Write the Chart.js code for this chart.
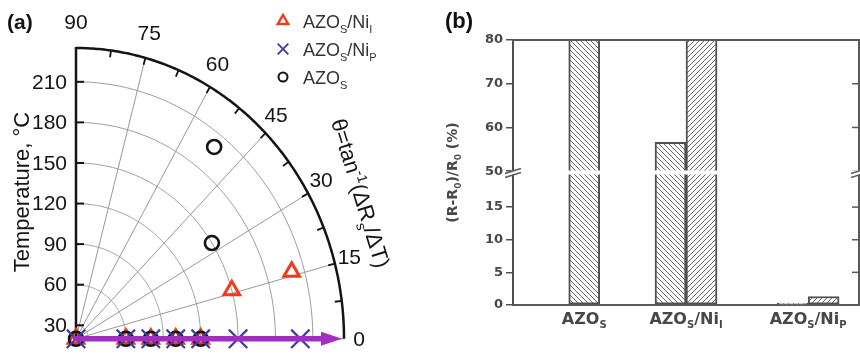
<!DOCTYPE html>
<html>
<head>
<meta charset="utf-8">
<script src="https://cdn.jsdelivr.net/npm/chart.js@4.4.1/dist/chart.umd.min.js"></script>
<style>
  html, body { margin: 0; padding: 0; background: #fff; }
  #wrap { position: relative; width: 860px; height: 354px; overflow: hidden; }
  #polar { position: absolute; left: 0; top: 0; }
  #bars { position: absolute; left: 430px; top: 0; }
</style>
</head>
<body>
<div id="wrap">
  <canvas id="polar" width="430" height="354"></canvas>
  <canvas id="bars" width="430" height="354"></canvas>
</div>
<script>
// ---------- (a) temperature (radius) vs. theta = atan(dRs/dT) (angle) ----------
const temperatures = [20, 60, 80, 100, 120, 150, 200];
const thetaNiI = [0, 0, 0, 0, 0, 16, 16];
const thetaNiP = [0, 0, 0, 0, 0, 0, 0];
const thetaAZO = [0, 0, 0, 0, 0, 33, 52];
const radialMin = 20;
const radialMax = 235;
const radialTicks = [30, 60, 90, 120, 150, 180, 210];
const angleTicks = [0, 15, 30, 45, 60, 75, 90];
const angleMinorStep = 7.5;

// ---------- (b) relative resistance change ----------
const groupNames = [
  [['AZO', ''], ['S', 'sub']],
  [['AZO', ''], ['S', 'sub'], ['/Ni', ''], ['I', 'sub']],
  [['AZO', ''], ['S', 'sub'], ['/Ni', ''], ['P', 'sub']]
];
const groupPos = [1, 2, 3.2];
const changeFirst = [92, 56.6, 0.25];
const changeSecond = [null, 92, 1.3];
const lowerTicks = [0, 5, 10, 15];
const upperTicks = [50, 60, 70, 80];

const RAD = Math.PI / 180;
const RED = '#ef3a1c', BLUE = '#3b3bb0', INK = '#141414', PURPLE = '#a42cc3';
const NARROW = '"Liberation Sans Narrow", "Arial Narrow", sans-serif';
const SANS = '"Liberation Sans", Arial, sans-serif';
const WIDE = '"DejaVu Sans", Verdana, sans-serif';

function polarPoint(T, deg) {
  const r = T - radialMin;
  return { x: r * Math.cos(deg * RAD), y: r * Math.sin(deg * RAD) };
}

// text with sub/superscripts: parts = [[text, ''|'sub'|'sup'], ...]
function richWidth(ctx, parts, size, family, weight) {
  let w = 0;
  for (const [t, kind] of parts) {
    ctx.font = (weight || '') + ' ' + (kind ? Math.round(size * 0.62) : size) + 'px ' + family;
    w += ctx.measureText(t).width;
  }
  return w;
}
function drawRich(ctx, parts, x, y, size, family, align, weight) {
  const total = richWidth(ctx, parts, size, family, weight);
  let cx = align === 'center' ? x - total / 2 : x;
  ctx.textAlign = 'left';
  ctx.textBaseline = 'alphabetic';
  for (const [t, kind] of parts) {
    ctx.font = (weight || '') + ' ' + (kind ? Math.round(size * 0.62) : size) + 'px ' + family;
    const dy = kind === 'sub' ? size * 0.28 : kind === 'sup' ? -size * 0.4 : 0;
    ctx.fillText(t, cx, y + dy);
    cx += ctx.measureText(t).width;
  }
}

function marker(ctx, style, r, x, y, color, lw) {
  ctx.save();
  ctx.strokeStyle = color;
  ctx.fillStyle = 'rgba(0,0,0,0)';
  ctx.lineWidth = lw;
  Chart.helpers.drawPoint(ctx, { pointStyle: style, radius: r, borderWidth: lw, rotation: 0 }, x, y);
  ctx.restore();
}

const polarDecor = {
  id: 'polarDecor',
  beforeDatasetsDraw(chart) {
    const { ctx } = chart;
    const xs = chart.scales.x, ys = chart.scales.y;
    const px = (r, d) => xs.getPixelForValue(r * Math.cos(d * RAD));
    const py = (r, d) => ys.getPixelForValue(r * Math.sin(d * RAD));
    const rOuter = radialMax - radialMin;
    const arc = (r) => {
      ctx.beginPath();
      for (let d = 0; d <= 90; d += 0.5) {
        const X = px(r, d), Y = py(r, d);
        if (d === 0) ctx.moveTo(X, Y); else ctx.lineTo(X, Y);
      }
      ctx.stroke();
    };
    ctx.save();
    // grid rings and spokes
    ctx.strokeStyle = '#989898';
    ctx.lineWidth = 1;
    for (const T of radialTicks) arc(T - radialMin);
    for (const a of angleTicks) {
      if (a === 90) continue;
      ctx.beginPath();
      ctx.moveTo(px(0, a), py(0, a));
      ctx.lineTo(px(rOuter, a), py(rOuter, a));
      ctx.stroke();
    }
    // outer angular axis
    ctx.strokeStyle = INK;
    ctx.lineWidth = 2.5;
    arc(rOuter);
    ctx.lineWidth = 1.8;
    for (let a = angleMinorStep; a < 90; a += angleMinorStep) {
      const X = px(rOuter, a), Y = py(rOuter, a);
      ctx.beginPath();
      ctx.moveTo(X, Y);
      ctx.lineTo(X - 7 * Math.cos(a * RAD), Y + 7 * Math.sin(a * RAD));
      ctx.stroke();
    }
    // radial (temperature) axis
    const x0 = px(0, 90);
    ctx.lineWidth = 2.5;
    ctx.beginPath();
    ctx.moveTo(x0, py(0, 90) + 1);
    ctx.lineTo(x0, py(rOuter, 90) - 1);
    ctx.stroke();
    ctx.lineWidth = 2;
    ctx.fillStyle = INK;
    ctx.font = '21px ' + NARROW;
    ctx.textAlign = 'right';
    ctx.textBaseline = 'middle';
    for (const T of radialTicks) {
      const Y = ys.getPixelForValue(T - radialMin);
      ctx.beginPath();
      ctx.moveTo(x0, Y);
      ctx.lineTo(x0 + 8, Y);
      ctx.stroke();
      ctx.fillText(String(T), x0 - 9, Y + 1);
    }
    // angle labels
    ctx.textAlign = 'center';
    for (const a of angleTicks) {
      const X = px(rOuter, a) + 15 * Math.cos(a * RAD);
      const Y = py(rOuter, a) - 26 * Math.sin(a * RAD);
      ctx.fillText(String(a), X, Y + 1);
    }
    ctx.restore();
  },
  afterDatasetsDraw(chart) {
    const { ctx } = chart;
    const xs = chart.scales.x, ys = chart.scales.y;
    const rOuter = radialMax - radialMin;
    const xa = xs.getPixelForValue(0), xb = xs.getPixelForValue(rOuter) - 2;
    const y0 = ys.getPixelForValue(0);
    ctx.save();
    ctx.strokeStyle = PURPLE;
    ctx.fillStyle = PURPLE;
    ctx.lineWidth = 5.5;
    ctx.beginPath();
    ctx.moveTo(xa - 3, y0);
    ctx.lineTo(xb - 18, y0);
    ctx.stroke();
    ctx.beginPath();
    ctx.moveTo(xb, y0);
    ctx.lineTo(xb - 21, y0 - 7);
    ctx.lineTo(xb - 21, y0 + 7);
    ctx.closePath();
    ctx.fill();
    ctx.restore();
  },
  afterDraw(chart) {
    const { ctx } = chart;
    ctx.save();
    ctx.fillStyle = INK;
    // panel tag
    ctx.font = 'bold 21px ' + SANS;
    ctx.textAlign = 'left';
    ctx.textBaseline = 'alphabetic';
    ctx.fillText('(a)', 7, 29);
    // legend
    const rows = [
      { style: 'triangle', r: 6, color: RED, lw: 2.4, parts: [['AZO', ''], ['S', 'sub'], ['/Ni', ''], ['I', 'sub']] },
      { style: 'crossRot', r: 7.5, color: BLUE, lw: 1.8, parts: [['AZO', ''], ['S', 'sub'], ['/Ni', ''], ['P', 'sub']] },
      { style: 'circle', r: 4.5, color: INK, lw: 2, parts: [['AZO', ''], ['S', 'sub']] }
    ];
    rows.forEach((row, i) => {
      const cy = 21 + i * 28;
      marker(ctx, row.style, row.r, 283, cy, row.color, row.lw);
      ctx.fillStyle = '#333';
      drawRich(ctx, row.parts, 303, cy + 7, 18, NARROW, 'left');
    });
    // radial axis title
    ctx.fillStyle = INK;
    ctx.save();
    ctx.translate(29, 192);
    ctx.rotate(-Math.PI / 2);
    ctx.font = '22px ' + NARROW;
    ctx.textAlign = 'center';
    ctx.fillText('Temperature, \u00B0C', 0, 0);
    ctx.restore();
    // angle definition
    ctx.save();
    ctx.translate(361, 193);
    ctx.rotate(73 * RAD);
    const parts = [['\u03B8=tan', ''], ['-1', 'sup'], ['(\u0394R', ''], ['s', 'sub'], ['/\u0394T)', '']];
    drawRich(ctx, parts, 0, 8, 22, SANS, 'center');
    ctx.restore();
    ctx.restore();
  }
};

new Chart(document.getElementById('polar'), {
  type: 'scatter',
  data: {
    datasets: [
      {
        label: 'AZOs/NiI',
        data: temperatures.map((T, i) => polarPoint(T, thetaNiI[i])),
        pointStyle: 'triangle', pointRadius: 9, pointBorderWidth: 3,
        pointBorderColor: RED, pointBackgroundColor: 'rgba(0,0,0,0)',
        order: 3, clip: false
      },
      {
        label: 'AZOs/NiP',
        data: temperatures.map((T, i) => polarPoint(T, thetaNiP[i])),
        pointStyle: 'crossRot', pointRadius: 13, pointBorderWidth: 2.2,
        pointBorderColor: BLUE, pointBackgroundColor: 'rgba(0,0,0,0)',
        order: 1, clip: false
      },
      {
        label: 'AZOs',
        data: temperatures.map((T, i) => polarPoint(T, thetaAZO[i])),
        pointStyle: 'circle', pointRadius: 7, pointBorderWidth: 2.6,
        pointBorderColor: INK, pointBackgroundColor: 'rgba(0,0,0,0)',
        order: 2, clip: false
      }
    ]
  },
  options: {
    responsive: false,
    animation: false,
    devicePixelRatio: 1,
    events: [],
    layout: { padding: { left: 76, right: 86, top: 48, bottom: 13 } },
    plugins: { legend: { display: false }, tooltip: { enabled: false } },
    scales: {
      x: { type: 'linear', min: 0, max: radialMax - radialMin, display: false },
      y: { type: 'linear', min: 0, max: radialMax - radialMin, display: false }
    }
  },
  plugins: [polarDecor]
});

// ---------- (b) ----------
function makeHatch(dir) {
  const s = 5;
  const c = document.createElement('canvas');
  c.width = s; c.height = s;
  const g = c.getContext('2d');
  g.fillStyle = '#fff';
  g.fillRect(0, 0, s, s);
  g.strokeStyle = '#666';
  g.lineWidth = 1;
  g.beginPath();
  if (dir === 'back') {
    g.moveTo(-1, -1); g.lineTo(s + 1, s + 1);
    g.moveTo(-1, s - 1); g.lineTo(1, s + 1);
    g.moveTo(s - 1, -1); g.lineTo(s + 1, 1);
  } else {
    g.moveTo(-1, s + 1); g.lineTo(s + 1, -1);
    g.moveTo(-1, 1); g.lineTo(1, -1);
    g.moveTo(s - 1, s + 1); g.lineTo(s + 1, s - 1);
  }
  g.stroke();
  return g.createPattern(c, 'repeat');
}
const hatchBack = makeHatch('back');
const hatchFwd = makeHatch('fwd');
const barSeries = (values) => values.map((v, i) => ({ x: groupPos[i], y: v }));
const barLook = {
  borderColor: '#505050', borderWidth: 2, borderSkipped: false,
  barThickness: 31, skipNull: true
};

const GREY = '#474747';
const barFrame = {
  id: 'barFrame',
  beforeDatasetDraw(chart, args) {
    const ys = args.meta.yScale, ca = chart.chartArea, ctx = chart.ctx;
    ctx.save();
    ctx.beginPath();
    ctx.rect(ca.left, ys.top, ca.right - ca.left, ys.bottom - ys.top);
    ctx.clip();
  },
  afterDatasetDraw(chart) {
    chart.ctx.restore();
  },
  afterDraw(chart) {
    const { ctx, chartArea: ca } = chart;
    const low = chart.scales.yLow, high = chart.scales.yHigh, xs = chart.scales.x;
    const cut = (low.top + high.bottom) / 2;
    const line = (x1, y1, x2, y2) => { ctx.beginPath(); ctx.moveTo(x1, y1); ctx.lineTo(x2, y2); ctx.stroke(); };
    ctx.save();
    ctx.strokeStyle = '#5a5a5a';
    ctx.lineWidth = 2;
    line(ca.left - 1, ca.top, ca.right + 1, ca.top);
    line(ca.right, ca.top, ca.right, ca.bottom);
    ctx.lineWidth = 1.5;
    for (const s of [low, high]) {
      for (const t of s.ticks) {
        const y = s.getPixelForValue(t.value);
        line(ca.right - 7, y, ca.right, y);
      }
    }
    // axis break
    ctx.fillStyle = '#fff';
    ctx.fillRect(ca.left - 2, cut - 2, ca.right - ca.left + 4, 4);
    ctx.lineWidth = 1.4;
    for (const xb of [ca.left, ca.right]) {
      line(xb - 8, cut + 1, xb + 8, cut - 4);
      line(xb - 8, cut + 5, xb + 8, cut);
    }
    // axis title
    ctx.fillStyle = GREY;
    ctx.save();
    ctx.translate(27, cut);
    ctx.rotate(-Math.PI / 2);
    drawRich(ctx, [['(R-R', ''], ['0', 'sub'], [')/R', ''], ['0', 'sub'], [' (%)', '']], 0, 0, 14, WIDE, 'center', 'bold');
    ctx.restore();
    // category names
    groupNames.forEach((parts, i) => {
      drawRich(ctx, parts, xs.getPixelForValue(groupPos[i]), ca.bottom + 19, 16, WIDE, 'center', 'bold');
    });
    // panel tag
    ctx.fillStyle = '#111';
    ctx.font = 'bold 22px ' + SANS;
    ctx.textAlign = 'left';
    ctx.textBaseline = 'alphabetic';
    ctx.fillText('(b)', 15, 28);
    ctx.restore();
  }
};

const yCommon = {
  type: 'linear', position: 'left', stack: 'change', stackWeight: 1, stacked: false,
  border: { display: true, color: '#505050', width: 2 },
  grid: { drawOnChartArea: false, drawTicks: true, tickLength: 7, color: '#505050', lineWidth: 1.5 },
  ticks: { color: GREY, font: { family: WIDE, size: 13, weight: 'bold' }, padding: 3 },
  afterFit(s) { s.width = 83; }
};

new Chart(document.getElementById('bars'), {
  type: 'bar',
  data: {
    datasets: [
      { ...barLook, data: barSeries(changeFirst), yAxisID: 'yLow', stack: 'first', backgroundColor: hatchBack },
      { ...barLook, data: barSeries(changeSecond), yAxisID: 'yLow', stack: 'second', backgroundColor: hatchFwd },
      { ...barLook, data: barSeries(changeFirst), yAxisID: 'yHigh', stack: 'first', backgroundColor: hatchBack },
      { ...barLook, data: barSeries(changeSecond), yAxisID: 'yHigh', stack: 'second', backgroundColor: hatchFwd }
    ]
  },
  options: {
    responsive: false,
    animation: false,
    devicePixelRatio: 1,
    events: [],
    layout: { padding: { left: 0, right: 1, top: 40, bottom: 49 } },
    plugins: { legend: { display: false }, tooltip: { enabled: false } },
    scales: {
      x: {
        type: 'linear', position: 'bottom', min: 0.3, max: 3.7, offset: false,
        grid: { display: false, drawTicks: false },
        border: { display: true, color: '#5a5a5a', width: 2 },
        ticks: { display: false },
        afterFit(s) { s.height = 0; }
      },
      yHigh: {
        ...yCommon, weight: 2, min: 49.7, max: 80,
        afterBuildTicks(s) { s.ticks = upperTicks.map(v => ({ value: v })); }
      },
      yLow: {
        ...yCommon, weight: 1, min: 0, max: 20.3,
        afterBuildTicks(s) { s.ticks = lowerTicks.map(v => ({ value: v })); }
      }
    }
  },
  plugins: [barFrame]
});
</script>
</body>
</html>
